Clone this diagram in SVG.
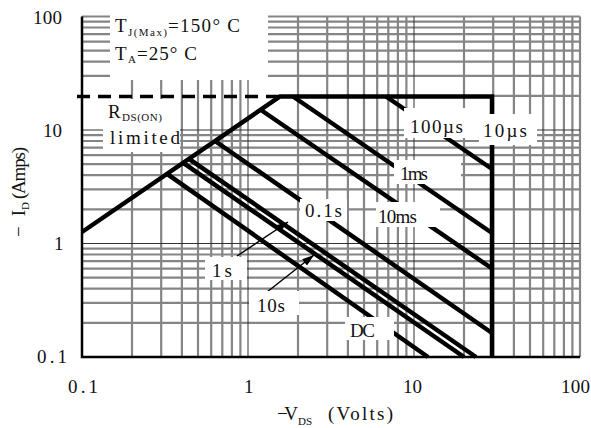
<svg xmlns="http://www.w3.org/2000/svg" width="591" height="428" viewBox="0 0 591 428">
<style>
.g{stroke:#858585;stroke-width:2.2;fill:none}
.d{stroke:#333;stroke-width:1;fill:none}
.ax{stroke:#000;stroke-width:2.5;fill:none}
.c{stroke:#000;stroke-width:4.5;fill:none;stroke-linejoin:miter}
.dash{stroke:#000;stroke-width:3.5;fill:none;stroke-dasharray:13 8}
.bx{fill:#fff}
.t{font-family:"Liberation Serif",serif;font-size:19px;fill:#111}
.s{font-size:11px}
.ar{stroke:#000;stroke-width:1.5;fill:none;marker-end:url(#ah)}
</style>
<defs>
<marker id="ah" viewBox="0 0 12 8" refX="12" refY="4" markerWidth="12" markerHeight="8" markerUnits="userSpaceOnUse" orient="auto">
<path d="M0,0 L12,4 L0,8 z" fill="#000"/>
</marker>
</defs>
<rect width="591" height="428" fill="#fff"/>
<g id="grid">
<path class="g" d="M132 16.5V357M161.2 16.5V357M181.9 16.5V357M198 16.5V357M211.2 16.5V357M222.3 16.5V357M231.9 16.5V357M240.4 16.5V357M298 16.5V357M327.2 16.5V357M347.9 16.5V357M364 16.5V357M377.2 16.5V357M388.3 16.5V357M397.9 16.5V357M406.4 16.5V357M464 16.5V357M493.2 16.5V357M513.9 16.5V357M530 16.5V357M543.2 16.5V357M554.3 16.5V357M563.9 16.5V357M572.4 16.5V357M580 16.5V357"/>
<path class="g" d="M82 322.8H580M82 302.9H580M82 288.7H580M82 277.7H580M82 268.7H580M82 261.1H580M82 254.5H580M82 248.7H580M82 209.3H580M82 189.4H580M82 175.2H580M82 164.2H580M82 155.2H580M82 147.6H580M82 141H580M82 135.2H580M492 95.8H580M82 75.9H580M82 61.7H580M82 50.7H580M82 41.7H580M82 34.1H580M82 27.5H580M82 21.7H580M82 16.5H580"/>
<path class="d" d="M248 16.5V357M414 16.5V357M82 243.5H580M82 130H580"/>
<path class="ax" d="M82 16.5V357H580"/>
</g>
<g id="connectors">
<path id="soa-limit" class="c" d="M82 232L280 96.5H492V357"/>
<path id="rds-dashed" class="dash" d="M77 96.5H280"/>
<path id="c-100us" class="c" d="M386 96.5L492 169"/>
<path id="c-1ms" class="c" d="M293 96.5L492 233"/>
<path id="c-10ms" class="c" d="M261 110L492 268.5"/>
<path id="c-0.1s" class="c" d="M215 141L492 333"/>
<path id="c-1s" class="c" d="M189 158.8L476 357"/>
<path id="c-10s" class="c" d="M183.2 162.8L464 357"/>
<path id="c-dc" class="c" d="M167 173.9L428 357"/>
<path id="arrow-1s" class="ar" d="M237 256L288 222"/>
<path id="arrow-10s" class="ar" d="M267 292L314 255"/>
</g>
<g id="cond-label">
<rect class="bx" x="110" y="10" width="158" height="70"/>
<text class="t" x="115" y="32">T</text>
<text class="t s" x="128" y="36" textLength="39">J(Max)</text>
<text class="t" x="168" y="32" textLength="72">=150° C</text>
<text class="t" x="115" y="60">T</text>
<text class="t s" x="128" y="63">A</text>
<text class="t" x="137" y="60" textLength="60">=25° C</text>
</g>
<g id="rds-label">
<rect class="bx" x="103" y="99" width="77" height="53"/>
<text class="t" x="108" y="118">R</text>
<text class="t s" x="122" y="121" textLength="40">DS(ON)</text>
<text class="t" x="110" y="144" textLength="70">limited</text>
</g>
<g id="label-100us">
<rect class="bx" x="404" y="108" width="75" height="30"/>
<text class="t" x="410" y="133" textLength="53">100µs</text>
</g>
<g id="label-10us">
<rect class="bx" x="479" y="114" width="58" height="31"/>
<text class="t" x="483" y="137" textLength="44">10µs</text>
</g>
<g id="label-1ms">
<rect class="bx" x="394" y="160" width="67" height="24"/>
<text class="t" x="400" y="180" textLength="28">1ms</text>
</g>
<g id="label-10ms">
<rect class="bx" x="376" y="202" width="64" height="25"/>
<text class="t" x="378" y="223" textLength="39">10ms</text>
</g>
<g id="label-0.1s">
<rect class="bx" x="300" y="199" width="47" height="22"/>
<text class="t" x="305" y="217" textLength="37">0.1s</text>
</g>
<g id="label-1s">
<rect class="bx" x="205" y="257" width="42" height="23"/>
<text class="t" x="212" y="277" textLength="20">1s</text>
</g>
<g id="label-10s">
<rect class="bx" x="249" y="291" width="50" height="24"/>
<text class="t" x="257" y="312" textLength="28">10s</text>
</g>
<g id="label-dc">
<rect class="bx" x="345" y="317" width="49" height="23"/>
<text class="t" x="350" y="337" textLength="25">DC</text>
</g>
<g id="axis-labels">
<text class="t" x="33" y="24" textLength="29">100</text>
<text class="t" x="43" y="137" textLength="19">10</text>
<text class="t" x="54" y="250">1</text>
<text class="t" x="37" y="363" textLength="30">0.1</text>
<text class="t" x="68" y="393" textLength="30">0.1</text>
<text class="t" x="244" y="393">1</text>
<text class="t" x="403" y="393" textLength="19">10</text>
<text class="t" x="561" y="393" textLength="29">100</text>
<text class="t" x="277" y="420" textLength="21">−V</text>
<text class="t s" x="298" y="425" textLength="14">DS</text>
<text class="t" x="328" y="420" textLength="65">(Volts)</text>
<text class="t" transform="translate(25,237) rotate(-90)" textLength="27">−I</text>
<text class="t s" transform="translate(29,210) rotate(-90)" textLength="8">D</text>
<text class="t" transform="translate(25,199) rotate(-90)" textLength="52">(Amps)</text>
</g>
</svg>
